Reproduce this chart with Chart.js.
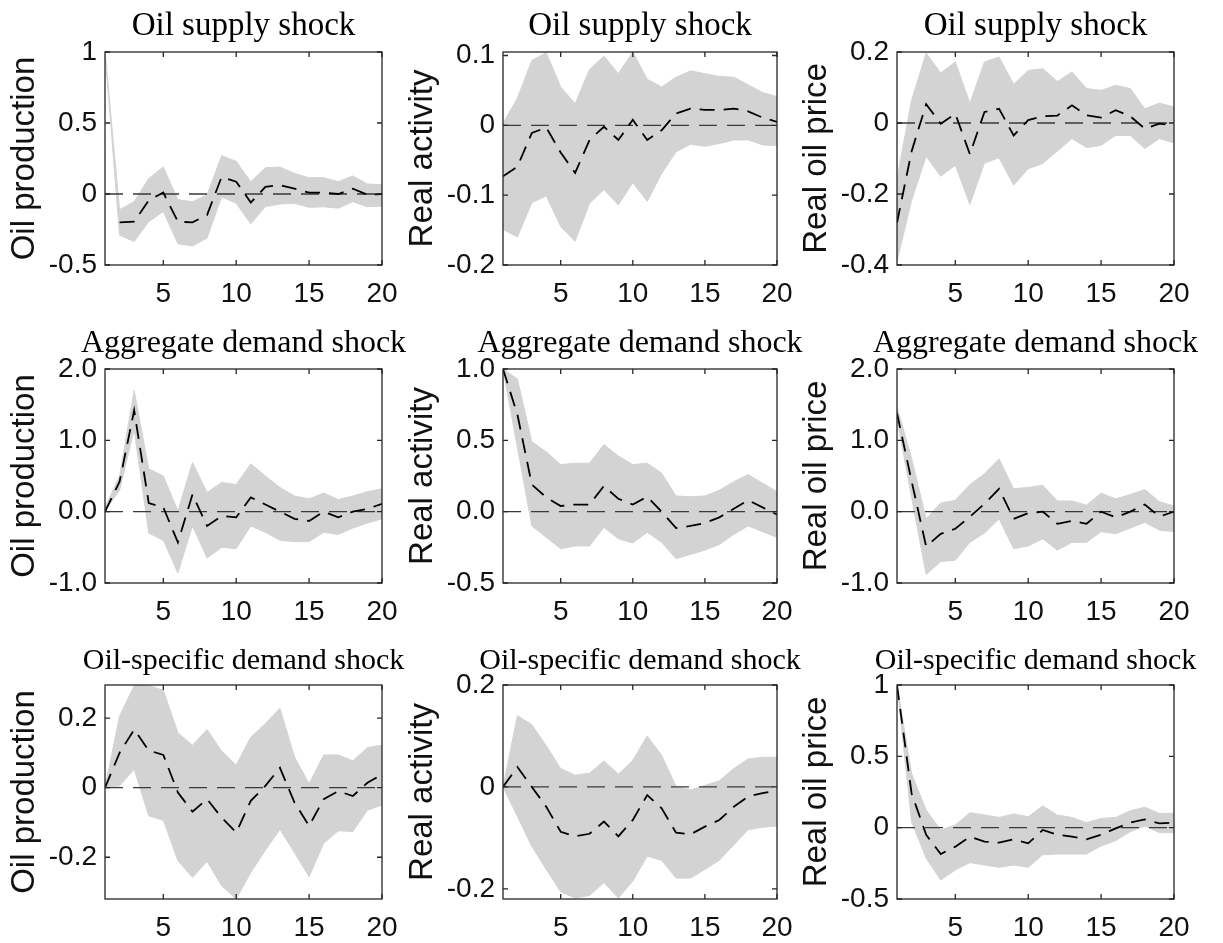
<!DOCTYPE html>
<html>
<head>
<meta charset="utf-8">
<script src="https://cdn.jsdelivr.net/npm/chart.js@4.4.1/dist/chart.umd.min.js"></script>
<style>
html, body { margin:0; padding:0; background:#fff; overflow:hidden; }
body { width:1223px; height:943px; position:relative; }
canvas { position:absolute; }
</style>
</head>
<body>
<script>
// horizon (quarters) and x ticks
const periods = [1,2,3,4,5,6,7,8,9,10,11,12,13,14,15,16,17,18,19,20];
const xTicks = [5,10,15,20];

// row titles / column labels
const shockTitles = ["Oil supply shock","Aggregate demand shock","Oil-specific demand shock"];
const varLabels = ["Oil production","Real activity","Real oil price"];

// oil supply shock
const supProdHi = [1.0,-0.11,-0.054,0.11,0.19,-0.04,-0.054,-0.007,0.27,0.23,0.087,0.185,0.19,0.145,0.115,0.115,0.087,0.127,0.07,0.066];
const supProdLo = [1.0,-0.29,-0.335,-0.195,-0.124,-0.35,-0.366,-0.31,-0.02,-0.066,-0.21,-0.09,-0.07,-0.066,-0.094,-0.09,-0.1,-0.054,-0.09,-0.085];
const supProdMed = [null,-0.2,-0.195,-0.045,0.01,-0.195,-0.2,-0.148,0.12,0.087,-0.06,0.05,0.063,0.037,0.01,0.01,0,0.037,-0.005,0];

const supActHi = [0.003,0.039,0.093,0.104,0.055,0.031,0.08,0.099,0.074,0.105,0.066,0.055,0.069,0.078,0.074,0.07,0.069,0.058,0.047,0.041];
const supActLo = [-0.149,-0.16,-0.111,-0.101,-0.145,-0.166,-0.112,-0.092,-0.114,-0.082,-0.109,-0.069,-0.038,-0.027,-0.03,-0.026,-0.021,-0.021,-0.028,-0.029];
const supActMed = [-0.073,-0.059,-0.011,-0.003,-0.039,-0.068,-0.021,-0.002,-0.021,0.008,-0.021,-0.007,0.017,0.024,0.022,0.022,0.024,0.02,0.011,0.005];

const supPriceHi = [-0.157,0.064,0.197,0.141,0.172,0.056,0.172,0.186,0.109,0.148,0.153,0.117,0.144,0.097,0.092,0.106,0.097,0.04,0.056,0.045];
const supPriceLo = [-0.39,-0.218,-0.094,-0.15,-0.119,-0.229,-0.113,-0.098,-0.175,-0.129,-0.114,-0.079,-0.044,-0.069,-0.063,-0.035,-0.035,-0.072,-0.044,-0.056];
const supPriceMed = [-0.281,-0.08,0.053,-0.002,0.026,-0.088,0.031,0.04,-0.035,0.008,0.019,0.021,0.05,0.022,0.015,0.036,0.019,-0.016,-0.002,-0.007];

// aggregate demand shock
const adProdHi = [0.06,0.5,1.7,0.6,0.5,0.01,0.69,0.27,0.41,0.38,0.67,0.5,0.34,0.22,0.18,0.26,0.17,0.22,0.28,0.32];
const adProdLo = [0.01,0.3,1.15,-0.3,-0.4,-0.86,-0.2,-0.65,-0.5,-0.52,-0.2,-0.29,-0.4,-0.42,-0.42,-0.29,-0.32,-0.23,-0.16,-0.1];
const adProdMed = [0,0.42,1.42,0.12,0.06,-0.43,0.24,-0.2,-0.06,-0.08,0.2,0.1,0,-0.1,-0.13,0,-0.08,0,0.04,0.11];

const adActHi = [1.0,0.93,0.49,0.42,0.33,0.34,0.34,0.47,0.39,0.33,0.34,0.27,0.11,0.105,0.11,0.15,0.21,0.26,0.2,0.14];
const adActLo = [1.0,0.45,-0.1,-0.18,-0.26,-0.24,-0.24,-0.11,-0.19,-0.22,-0.145,-0.215,-0.33,-0.3,-0.27,-0.23,-0.16,-0.1,-0.14,-0.18];
const adActMed = [1.0,0.68,0.19,0.1,0.04,0.05,0.05,0.18,0.09,0.05,0.105,0,-0.115,-0.1,-0.08,-0.04,0.02,0.08,0.03,-0.02];

const adPriceHi = [1.47,0.75,-0.1,0.12,0.16,0.38,0.53,0.74,0.32,0.34,0.37,0.15,0.15,0.09,0.26,0.18,0.24,0.31,0.14,0.08];
const adPriceLo = [1.3,0.2,-0.88,-0.7,-0.68,-0.43,-0.3,-0.1,-0.52,-0.48,-0.38,-0.54,-0.43,-0.43,-0.28,-0.31,-0.23,-0.15,-0.26,-0.28];
const adPriceMed = [1.38,0.43,-0.49,-0.31,-0.24,-0.07,0.11,0.32,-0.1,-0.02,0,-0.17,-0.13,-0.17,0,-0.08,0,0.1,-0.07,0];

// oil-specific demand shock
const osProdHi = [0,0.206,0.293,0.293,0.28,0.158,0.122,0.167,0.105,0.065,0.145,0.184,0.228,0.088,0.011,0.094,0.094,0.077,0.115,0.122];
const osProdLo = [0,0.005,0.053,-0.081,-0.094,-0.21,-0.258,-0.212,-0.282,-0.32,-0.244,-0.18,-0.12,-0.187,-0.256,-0.16,-0.124,-0.126,-0.065,-0.05];
const osProdMed = [0,0.1,0.167,0.107,0.094,-0.014,-0.069,-0.033,-0.086,-0.129,-0.038,0.005,0.057,-0.043,-0.11,-0.033,-0.01,-0.024,0.014,0.038];

const osActHi = [0,0.14,0.122,0.081,0.036,0.023,0.027,0.051,0.025,0.052,0.1,0.062,0.001,-0.006,0.003,0.012,0.036,0.055,0.058,0.058];
const osActLo = [0,-0.058,-0.117,-0.162,-0.206,-0.218,-0.213,-0.188,-0.218,-0.185,-0.136,-0.144,-0.179,-0.179,-0.162,-0.144,-0.114,-0.084,-0.079,-0.077];
const osActMed = [0,0.039,0,-0.039,-0.088,-0.097,-0.092,-0.068,-0.097,-0.065,-0.016,-0.042,-0.09,-0.093,-0.078,-0.065,-0.039,-0.019,-0.012,-0.008];

const osPriceHi = [1.0,0.38,0.124,-0.016,0.019,0.105,0.089,0.072,0.096,0.077,0.152,0.089,0.072,0.035,0.065,0.072,0.119,0.143,0.1,0.1];
const osPriceLo = [1.0,0.04,-0.215,-0.367,-0.297,-0.245,-0.262,-0.278,-0.262,-0.278,-0.19,-0.185,-0.185,-0.185,-0.128,-0.091,-0.028,0.012,-0.035,-0.035];
const osPriceMed = [1.0,0.24,-0.05,-0.185,-0.133,-0.063,-0.098,-0.105,-0.082,-0.11,-0.016,-0.05,-0.063,-0.082,-0.05,-0.005,0.035,0.058,0.03,0.035];

// y ticks and their labels
const ticksA = [-0.5,0,0.5,1];      const labelsA = ["-0.5","0","0.5","1"];
const ticksB = [-0.2,-0.1,0,0.1];   const labelsB = ["-0.2","-0.1","0","0.1"];
const ticksC = [-0.4,-0.2,0,0.2];   const labelsC = ["-0.4","-0.2","0","0.2"];
const ticksD = [-1,0,1,2];          const labelsD = ["-1.0","0.0","1.0","2.0"];
const ticksE = [-0.5,0,0.5,1];      const labelsE = ["-0.5","0.0","0.5","1.0"];
const ticksF = [-0.2,0,0.2];        const labelsF = ["-0.2","0","0.2"];

const panels = [
  {row:0,col:0,hi:supProdHi,lo:supProdLo,med:supProdMed,min:-0.5,max:1,ticks:ticksA,labels:labelsA},
  {row:0,col:1,hi:supActHi,lo:supActLo,med:supActMed,min:-0.2,max:0.105,ticks:ticksB,labels:labelsB},
  {row:0,col:2,hi:supPriceHi,lo:supPriceLo,med:supPriceMed,min:-0.4,max:0.2,ticks:ticksC,labels:labelsC},
  {row:1,col:0,hi:adProdHi,lo:adProdLo,med:adProdMed,min:-1,max:2,ticks:ticksD,labels:labelsD},
  {row:1,col:1,hi:adActHi,lo:adActLo,med:adActMed,min:-0.5,max:1,ticks:ticksE,labels:labelsE},
  {row:1,col:2,hi:adPriceHi,lo:adPriceLo,med:adPriceMed,min:-1,max:2,ticks:ticksD,labels:labelsD},
  {row:2,col:0,hi:osProdHi,lo:osProdLo,med:osProdMed,min:-0.32,max:0.295,ticks:ticksF,labels:labelsF},
  {row:2,col:1,hi:osActHi,lo:osActLo,med:osActMed,min:-0.22,max:0.2,ticks:ticksF,labels:labelsF},
  {row:2,col:2,hi:osPriceHi,lo:osPriceLo,med:osPriceMed,min:-0.5,max:1,ticks:ticksA,labels:labelsA}
];

// layout of the plot boxes
const plotLeft = [105, 503, 897];
const plotW = [277, 274, 277];
const plotTop = [52, 369, 685];
const plotH = [213, 214, 214];
const SIDE = 105, TOP = 62, BOTTOM = 42;
const titleSize = [33, 32, 30];

const tickFont = {family:"'Liberation Sans', Arial, sans-serif", size:28, lineHeight:1};

// box around the axes with inward ticks
const frame = {
  id:'frame',
  afterDatasetsDraw(chart){
    const {ctx, chartArea:a, scales:{x, y}} = chart;
    ctx.save();
    ctx.strokeStyle = '#262626';
    ctx.lineWidth = 1.3;
    ctx.strokeRect(a.left, a.top, a.right - a.left, a.bottom - a.top);
    ctx.beginPath();
    x.ticks.forEach(t => {
      const px = x.getPixelForValue(t.value);
      ctx.moveTo(px, a.bottom); ctx.lineTo(px, a.bottom - 5);
      ctx.moveTo(px, a.top); ctx.lineTo(px, a.top + 5);
    });
    y.ticks.forEach(t => {
      const py = y.getPixelForValue(t.value);
      ctx.moveTo(a.left, py); ctx.lineTo(a.left + 5, py);
      ctx.moveTo(a.right, py); ctx.lineTo(a.right - 5, py);
    });
    ctx.stroke();
    ctx.restore();
  }
};

panels.forEach(p => {
  const c = document.createElement('canvas');
  c.width = plotW[p.col] + 2*SIDE;
  c.height = TOP + plotH[p.row] + BOTTOM;
  c.style.left = (plotLeft[p.col] - SIDE) + 'px';
  c.style.top = (plotTop[p.row] - TOP) + 'px';
  document.body.appendChild(c);

  const pts = arr => periods.map((x,i) => ({x:x, y:arr[i]}));
  const ts = titleSize[p.row];

  new Chart(c, {
    type:'line',
    data:{
      datasets:[
        {data:pts(p.hi), fill:'+1', backgroundColor:'#d3d3d3', borderColor:'#d3d3d3', borderWidth:1, pointRadius:0, order:2},
        {data:pts(p.lo), fill:false, borderColor:'#d3d3d3', borderWidth:1, pointRadius:0, order:2},
        {data:periods.map(x => ({x:x, y:0})), fill:false, borderColor:'#3a3a3a', borderWidth:1.3, borderDash:[18,10], pointRadius:0, order:1},
        {data:pts(p.med), fill:false, borderColor:'#000', borderWidth:1.8, borderDash:[15,9], pointRadius:0, order:0}
      ]
    },
    options:{
      responsive:false,
      animation:false,
      devicePixelRatio:1,
      layout:{padding:0},
      plugins:{
        legend:{display:false},
        tooltip:{enabled:false},
        title:{
          display:true,
          text:shockTitles[p.row],
          color:'#000',
          font:{family:"'Liberation Serif', 'Times New Roman', serif", size:ts, weight:'normal', lineHeight:1},
          padding:{top:TOP - ts - 9, bottom:9}
        }
      },
      scales:{
        x:{
          type:'linear', min:1, max:20,
          grid:{display:false, drawTicks:false},
          border:{display:false},
          afterBuildTicks: s => { s.ticks = xTicks.map(v => ({value:v})); },
          afterFit: s => { s.height = BOTTOM; },
          ticks:{font:tickFont, color:'#111', padding:15, autoSkip:false, maxRotation:0, callback: v => String(v)}
        },
        y:{
          type:'linear', min:p.min, max:p.max,
          grid:{display:false, drawTicks:false},
          border:{display:false},
          afterBuildTicks: s => { s.ticks = p.ticks.map(v => ({value:v})); },
          afterFit: s => { s.width = SIDE; },
          ticks:{font:tickFont, color:'#111', padding:8, autoSkip:false, callback: (v, i) => p.labels[i]},
          title:{
            display:true,
            text:varLabels[p.col],
            color:'#111',
            font:{family:"'Liberation Sans', Arial, sans-serif", size:33, lineHeight:1},
            padding:{top:8, bottom:0}
          }
        },
        // empty right-hand spacer so the title centres over the plot box
        yRight:{
          type:'linear', position:'right', min:0, max:1,
          grid:{display:false, drawTicks:false},
          border:{display:false},
          ticks:{display:false},
          afterFit: s => { s.width = SIDE; }
        }
      }
    },
    plugins:[frame]
  });
});
</script>
</body>
</html>
